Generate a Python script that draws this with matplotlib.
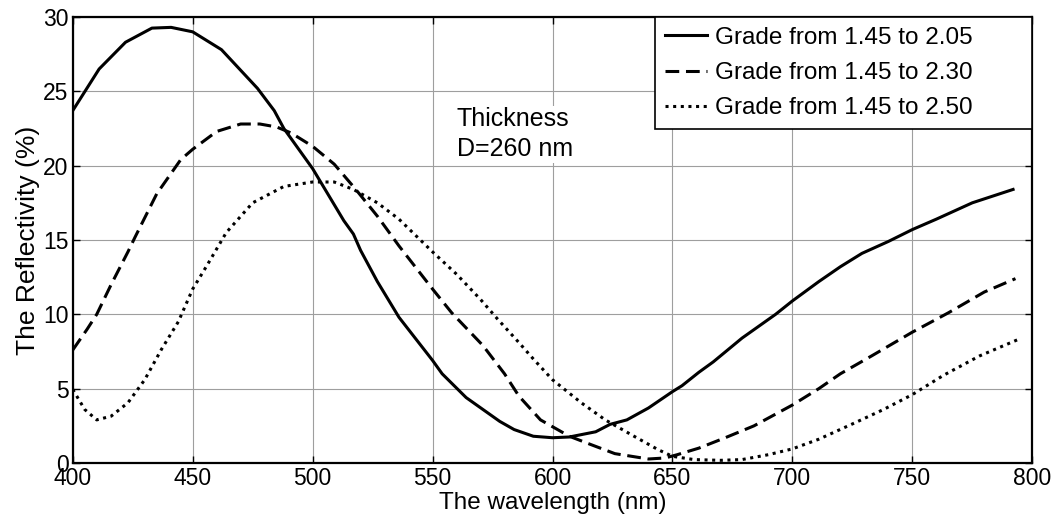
import matplotlib
matplotlib.use('Agg')
import matplotlib.pyplot as plt

plt.rcParams['font.family'] = ['Liberation Sans', 'DejaVu Sans']

# grade 1.45 -> 2.05
x_205 = [400, 411, 422, 433, 441, 450, 462, 477, 484, 488, 500, 513, 517, 520, 527, 536,
         550, 554, 564, 578, 584, 592, 600, 607, 618, 624, 631, 640, 650, 654, 661, 667,
         679, 693, 700, 711, 720, 729, 740, 750, 760, 775, 792]
r_205 = [23.7, 26.5, 28.3, 29.25, 29.3, 29.0, 27.8, 25.2, 23.7, 22.5, 19.8, 16.3, 15.4, 14.3,
         12.2, 9.8, 6.9, 6.0, 4.4, 2.8, 2.25, 1.8, 1.7, 1.75, 2.1, 2.6, 2.9, 3.7, 4.8, 5.2,
         6.1, 6.8, 8.4, 10.0, 10.9, 12.2, 13.2, 14.1, 14.9, 15.7, 16.4, 17.5, 18.4]

# grade 1.45 -> 2.30
x_230 = [400, 406, 410, 416, 423, 426, 435, 445, 450, 460, 470, 478, 485, 491, 500, 509,
         518, 527, 536, 550, 558, 571, 580, 586, 595, 607, 616, 626, 640, 647, 652, 661,
         672, 684, 700, 711, 720, 733, 750, 765, 780, 793]
r_230 = [7.6, 9.0, 10.0, 12.0, 14.2, 15.2, 18.1, 20.4, 21.1, 22.3, 22.8, 22.8, 22.6, 22.2,
         21.3, 20.1, 18.4, 16.6, 14.6, 11.7, 10.1, 7.9, 6.0, 4.5, 2.9, 1.8, 1.24, 0.63,
         0.27, 0.34, 0.56, 1.0, 1.7, 2.5, 3.9, 5.0, 6.0, 7.2, 8.8, 10.1, 11.5, 12.4]

# grade 1.45 -> 2.50
x_250 = [400, 405, 410, 416, 423, 430, 437, 444, 450, 456, 464, 475, 488, 500, 509, 517,
         527, 536, 550, 560, 570, 577, 586, 592, 600, 612, 622, 634, 644, 650, 659, 670,
         679, 690, 700, 711, 726, 738, 750, 763, 778, 794]
r_250 = [4.95, 3.6, 2.9, 3.15, 4.05, 5.6, 7.65, 9.5, 11.7, 13.3, 15.5, 17.5, 18.6, 18.9,
         18.9, 18.4, 17.5, 16.4, 14.2, 12.7, 11.0, 9.7, 8.1, 7.0, 5.6, 4.05, 2.9, 1.8, 0.9,
         0.45, 0.23, 0.18, 0.23, 0.56, 0.95, 1.6, 2.7, 3.6, 4.6, 5.9, 7.2, 8.3]

labels = ['Grade from 1.45 to 2.05', 'Grade from 1.45 to 2.30', 'Grade from 1.45 to 2.50']

fs = 16.5
fig = plt.figure(figsize=(10.62, 5.30), dpi=100)
ax = fig.add_axes([0.0685, 0.1264, 0.9035, 0.8416])

ax.plot(x_205, r_205, color='black', lw=2.2, label=labels[0])
ax.plot(x_230, r_230, color='black', lw=2.2, dashes=(4.5, 2.2), label=labels[1])
ax.plot(x_250, r_250, color='black', lw=2.2, dashes=(1, 1.5), label=labels[2])

ax.set_xlim(400, 800)
ax.set_ylim(0, 30)
ax.set_xticks(range(400, 801, 50))
ax.set_yticks(range(0, 31, 5))
ax.grid(True, color='0.62', lw=0.8)
ax.set_axisbelow(True)
ax.tick_params(direction='in', top=True, right=True, length=5, width=1,
               labelsize=fs, pad=3)
for s in ax.spines.values():
    s.set_linewidth(1.6)

ax.set_xlabel('The wavelength (nm)', fontsize=17.5, labelpad=1)
ax.set_ylabel('The Reflectivity (%)', fontsize=19, labelpad=2)

ax.text(560, 20.3, 'Thickness\nD=260 nm', fontsize=18, linespacing=1.3,
        ha='left', va='bottom', zorder=3,
        bbox=dict(facecolor='white', edgecolor='none', pad=1))

leg = ax.legend(loc='upper left', bbox_to_anchor=(0.6066, 0.0, 0.3934, 1.0),
                mode='expand', fontsize=17.5, frameon=True, fancybox=False,
                borderaxespad=0, handlelength=1.75, handletextpad=0.33,
                labelspacing=0.55, borderpad=0.4)
leg.get_frame().set_edgecolor('black')
leg.get_frame().set_linewidth(1.2)
leg.get_frame().set_alpha(1)

fig.savefig('out.png', dpi=100)
